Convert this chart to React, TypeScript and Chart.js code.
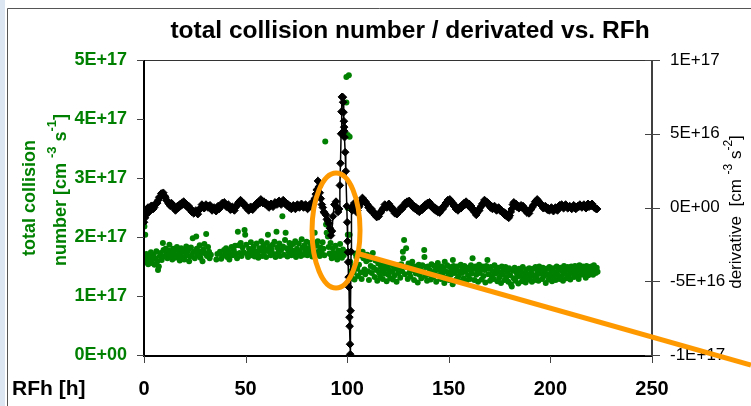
import React, { useEffect, useRef } from "react";
import { Chart, registerables } from "chart.js";

Chart.register(...registerables);

// RFh [h] axis ticks
const hourTicks = [0, 50, 100, 150, 200, 250];
// left axis tick labels (values in units of 1E+16 cm^-3 s^-1)
const leftTickLabels = ["0E+00", "1E+17", "2E+17", "3E+17", "4E+17", "5E+17"];
// right axis tick labels (values in units of 1E+16 cm^-3 s^-2)
const rightTickLabels = ["-1E+17", "-5E+16", "0E+00", "5E+16", "1E+17"];

// total collision number: [RFh, value / 1E+16]
const collisionPoints: [number, number][] = [
  [0, 22.4], [0.2, 21.8], [0.6, 20.4], [0.3, 16.6], [0.8, 15.7], [1.2, 17.1], [1.7, 16.2], [2.1, 15.4], [2.5, 16.9],
  [3.0, 16.0], [3.4, 17.4], [3.9, 15.6], [4.3, 16.5], [4.8, 17.0], [5.2, 15.3], [5.7, 16.3], [6.1, 17.6], [6.6, 15.9],
  [6.9, 14.4], [7.3, 15.0], [7.8, 16.8], [8.2, 17.3], [8.7, 16.1], [9.3, 19.0], [9.6, 17.8], [10.1, 16.7], [10.6, 18.0],
  [11.0, 17.2], [11.5, 16.4], [12.0, 17.7], [12.5, 18.7], [12.9, 16.9], [13.4, 17.5], [13.9, 16.2], [14.3, 18.0],
  [14.8, 17.1], [15.3, 16.5], [15.7, 17.9], [16.2, 18.3], [16.7, 16.8], [17.1, 17.6], [17.6, 16.0], [18.1, 17.2],
  [18.3, 18.1], [18.9, 16.6], [19.4, 17.8], [19.8, 16.2], [20.3, 17.4], [20.8, 18.4], [21.2, 16.9], [21.7, 17.7],
  [22.2, 15.9], [22.6, 16.7], [23.1, 18.2], [23.6, 17.0], [24.0, 19.8], [24.5, 17.5], [25.0, 16.4], [25.7, 20.1],
  [26.0, 18.0], [26.4, 16.9], [26.9, 17.6], [27.4, 18.6], [27.8, 16.5], [28.3, 17.3], [28.8, 15.9], [29.2, 17.9],
  [29.7, 18.8], [30.2, 17.2], [30.6, 20.5], [31.0, 16.8], [31.5, 18.3], [32.0, 17.5], [32.3, 16.4], [32.9, 17.0],
  [35.6, 16.2], [36.1, 17.1], [37.4, 17.5], [38.0, 16.3], [38.5, 16.8], [39.4, 17.8], [40.0, 17.3], [40.4, 18.1],
  [40.9, 16.6], [41.5, 17.6], [42.0, 16.2], [42.6, 17.0], [43.1, 18.3], [43.7, 16.9], [44.2, 17.7], [44.8, 18.5],
  [45.3, 17.1], [45.8, 16.4], [46.2, 20.9], [46.6, 18.6], [47.1, 17.3], [47.6, 19.0], [48.0, 16.8], [48.5, 18.2],
  [49.0, 17.4], [49.5, 21.2], [49.8, 20.4], [50.3, 18.7], [50.7, 17.1], [51.2, 16.6], [51.7, 18.0], [52.1, 17.5],
  [52.6, 19.1], [53.1, 16.9], [53.5, 17.8], [54.0, 18.4], [54.5, 16.7], [54.9, 17.5], [55.4, 18.9], [55.9, 17.2],
  [56.3, 16.5], [56.8, 18.1], [57.3, 17.7], [57.7, 19.3], [58.2, 16.8], [58.7, 18.5], [59.1, 17.4], [59.6, 18.0],
  [60.1, 16.6], [60.5, 19.0], [61.0, 20.4], [61.4, 17.6], [61.9, 18.3], [62.4, 16.9], [62.8, 17.9], [63.3, 18.7],
  [63.8, 17.1], [64.2, 19.2], [64.7, 16.6], [65.2, 20.9], [65.6, 18.2], [66.1, 17.4], [66.6, 18.9], [67.0, 16.8],
  [67.5, 17.8], [68.1, 23.5], [68.4, 18.4], [68.9, 17.0], [69.4, 19.5], [69.7, 20.7], [70.2, 18.1], [70.6, 16.7],
  [71.1, 17.6], [71.6, 19.0], [72.0, 18.3], [72.5, 16.9], [73.0, 17.7], [73.4, 18.8], [73.9, 17.3], [74.4, 19.3],
  [74.8, 16.6], [75.3, 18.0], [75.8, 17.2], [76.2, 18.9], [76.7, 17.6], [77.2, 16.8], [77.6, 19.6], [78.1, 18.2],
  [78.6, 17.0], [79.0, 18.6], [79.5, 17.7], [80.0, 19.2], [80.4, 16.9], [80.9, 18.1], [81.4, 17.4], [81.8, 19.0],
  [82.3, 18.4], [82.8, 16.7], [83.2, 17.8], [83.7, 18.9], [84.0, 20.7], [84.6, 17.2], [85.1, 18.5], [85.5, 19.3],
  [86.0, 17.6], [86.5, 16.8], [86.9, 18.2], [87.4, 17.4], [87.9, 19.1], [88.3, 18.0], [88.8, 16.9], [89.2, 36.2],
  [89.6, 22.1], [89.9, 20.7], [90.2, 22.5], [90.5, 20.1], [90.9, 18.3], [91.3, 17.2], [91.8, 19.0], [92.0, 17.0],
  [92.4, 16.4], [92.9, 18.1], [93.3, 17.3], [93.8, 16.6], [94.2, 18.5], [94.7, 17.0], [95.1, 16.2], [95.6, 17.7],
  [96.0, 16.8], [96.5, 18.8], [97.0, 17.4], [97.4, 16.5], [97.9, 17.9], [98.3, 16.9], [98.8, 17.5],
  [99.6, 47.1], [100.8, 47.4], [99.6, 42.8], [100.3, 37.3], [101.2, 37.0], [100.3, 20.4], [101.2, 20.4], [100.3, 24.9],
  [101.5, 15.8], [101.9, 14.2], [102.3, 13.1], [102.8, 15.0], [103.2, 14.0], [103.6, 12.8], [104.0, 17.2], [104.5, 16.6],
  [104.9, 14.6], [105.3, 13.4], [105.8, 15.3], [106.2, 16.9], [106.7, 14.0], [107.1, 12.9], [107.6, 17.5], [108.0, 16.4],
  [108.5, 14.5], [108.9, 13.7], [109.4, 15.9], [109.8, 17.0], [110.3, 14.2], [110.7, 12.7], [111.2, 16.2], [111.6, 15.1],
  [112.1, 13.9], [112.6, 17.3], [113.0, 14.8], [113.5, 13.2], [113.9, 16.0], [114.4, 14.4], [114.8, 12.6], [115.3, 15.5],
  [115.7, 14.0], [116.2, 13.3], [116.6, 15.0], [117.1, 14.3], [117.5, 12.9], [118.0, 15.4], [118.5, 13.8], [118.9, 14.7],
  [119.4, 12.5], [119.8, 15.1], [120.3, 13.6], [120.7, 14.4], [121.2, 13.0], [121.6, 15.3], [122.1, 14.1], [122.5, 12.8],
  [123.0, 15.0], [123.4, 13.5], [123.9, 14.6], [124.3, 12.4], [124.8, 15.2], [125.2, 13.9], [125.7, 14.8], [126.1, 13.1],
  [126.6, 15.4], [127.0, 14.2], [127.4, 17.5], [127.5, 16.4], [128.0, 19.5], [128.4, 13.7], [129.0, 18.1], [129.3, 14.9],
  [129.8, 12.9], [130.2, 15.5], [130.7, 14.0], [131.1, 13.3], [131.6, 15.1], [132.0, 15.8], [132.5, 14.4], [132.9, 12.7],
  [133.4, 15.0], [133.8, 13.8], [134.3, 14.6], [134.7, 12.3], [135.2, 15.3], [135.6, 13.6], [136.1, 14.5], [136.5, 13.0],
  [137.0, 15.2], [137.4, 14.1], [137.9, 17.8], [138.0, 16.6], [138.4, 13.4], [138.8, 14.9], [139.3, 12.6], [139.7, 15.0],
  [140.2, 13.7], [140.6, 14.4], [141.1, 12.8], [141.5, 15.4], [142.0, 14.0], [142.4, 13.2], [142.9, 15.1], [143.3, 14.3],
  [143.8, 12.4], [144.2, 14.8], [144.6, 15.6], [145.1, 13.5], [145.6, 14.4], [146.0, 12.9], [146.5, 15.0], [146.9, 13.8],
  [147.4, 14.7], [147.8, 12.2], [148.0, 15.8], [148.3, 14.2], [148.7, 13.1], [149.2, 15.2], [149.6, 14.0], [150.1, 12.7],
  [150.5, 14.9], [151.0, 13.6], [151.4, 14.5], [151.9, 12.0], [152.0, 16.1], [152.3, 15.1], [152.8, 13.9], [153.2, 14.6],
  [153.7, 12.8], [154.1, 15.0], [154.6, 13.3], [155.0, 14.2], [155.5, 12.5], [155.9, 15.3], [156.4, 13.9], [156.8, 14.7],
  [157.3, 13.0], [157.7, 15.1], [158.2, 14.1], [158.6, 12.6], [159.1, 14.8], [159.5, 13.5], [160.0, 14.5], [160.4, 12.9],
  [160.9, 15.2], [161.3, 13.8], [161.7, 16.4], [162.2, 14.6], [162.6, 12.7], [163.1, 15.0], [163.5, 13.6], [164.0, 14.3],
  [164.4, 12.4], [164.9, 15.3], [165.3, 13.9], [165.8, 14.7], [166.2, 12.8], [166.7, 15.0], [167.1, 13.4], [167.6, 14.4],
  [168.0, 12.3], [168.5, 15.1], [169.0, 16.1], [169.4, 13.7], [169.8, 14.6], [170.3, 12.6], [170.7, 14.9], [171.2, 13.3],
  [171.6, 14.2], [172.1, 12.9], [172.5, 15.2], [173.0, 13.8], [173.4, 14.5], [173.9, 12.5], [174.3, 14.8], [174.8, 13.1],
  [175.2, 14.0], [175.7, 12.2], [176.1, 15.0], [176.6, 13.6], [177.0, 14.4], [177.5, 12.7], [177.9, 14.9], [178.4, 13.2],
  [178.8, 14.1], [179.3, 12.4], [179.7, 14.7], [180.2, 13.5], [180.6, 12.0], [181.0, 11.6], [181.5, 14.3], [181.9, 13.0],
  [182.4, 14.8], [182.8, 12.6], [183.3, 14.0], [183.7, 13.3], [184.2, 12.1], [184.6, 14.6], [185.1, 13.4], [185.5, 14.2],
  [186.0, 12.5], [186.4, 14.9], [186.9, 13.1], [187.3, 13.9], [187.8, 12.3], [188.2, 14.5], [188.7, 13.6], [189.1, 12.8],
  [189.6, 14.7], [190.0, 13.2], [190.5, 14.0], [190.9, 12.4], [191.4, 14.6], [191.8, 13.5], [192.3, 12.7], [192.7, 14.9],
  [193.2, 13.3], [193.6, 14.2], [194.1, 12.6], [194.5, 15.0], [195.0, 13.8], [195.4, 14.5], [195.9, 12.9], [196.3, 14.8],
  [196.8, 13.4], [197.2, 14.1], [197.7, 12.2], [198.1, 14.6], [198.6, 13.7], [199.0, 12.8], [199.5, 14.9], [199.9, 13.5],
  [200.4, 14.3], [200.8, 12.5], [201.3, 14.7], [201.7, 13.1], [202.2, 14.0], [202.6, 12.7], [203.1, 15.0], [203.5, 13.6],
  [204.0, 14.4], [204.4, 12.9], [204.9, 14.8], [205.3, 13.3], [205.8, 14.2], [206.2, 12.6], [206.7, 15.1], [207.1, 13.8],
  [207.6, 14.5], [208.0, 13.0], [208.5, 14.9], [208.9, 13.5], [209.4, 14.3], [209.8, 12.8], [210.3, 15.0], [210.7, 13.9],
  [211.2, 14.6], [211.6, 13.2], [212.1, 15.1], [212.5, 14.0], [213.0, 13.4], [213.4, 14.7], [213.9, 12.9], [214.3, 15.2],
  [214.8, 14.1], [215.2, 13.6], [215.7, 14.8], [216.0, 15.0], [216.5, 13.7], [216.9, 14.4], [217.4, 13.1], [217.8, 15.1],
  [218.3, 14.2], [218.7, 13.5], [219.2, 14.9], [219.6, 13.9], [220.1, 15.0], [220.5, 14.3], [221.0, 13.6], [221.4, 15.2],
  [221.9, 14.5], [222.3, 13.9], [222.8, 14.8], [223.2, 14.1],
];

// derivative: [RFh, value / 1E+16]
const derivativePoints: [number, number][] = [
  [0, -1.0], [0.5, -0.7], [1, -0.5], [1.5, -0.1], [2, 0.0], [2.5, -0.3], [3, -0.2], [3.5, 0.1], [4, 0.1], [4.5, -0.1],
  [5, 0.0], [5.5, 0.2], [6, 0.3], [6.5, 0.3], [7, 0.5], [7.5, 0.7], [8, 0.7], [8.5, 0.95], [9, 0.9], [9.5, 1.0],
  [10, 0.8], [10.5, 0.7], [11, 0.5], [11.5, 0.45], [12, 0.3], [12.5, 0.2], [13, 0.1], [13.5, 0.3], [14, 0.2],
  [14.5, 0.0], [15, 0.0], [15.5, -0.2], [16, -0.1], [16.5, 0.1], [17, 0.0], [17.5, 0.2], [18, 0.1], [18.5, 0.3],
  [19, 0.2], [19.5, 0.4], [20, 0.3], [20.5, 0.15], [21, 0.2], [21.5, 0.0], [22, 0.1], [22.5, -0.1], [23, -0.1],
  [23.5, -0.3], [24, -0.2], [24.5, -0.4], [25, -0.3], [25.5, -0.2], [26, -0.3], [26.5, -0.45], [27, -0.2], [27.5, -0.1],
  [28, 0.0], [28.5, 0.2], [29, 0.1], [29.5, -0.05], [30, 0.0], [30.5, 0.2], [31, 0.1], [31.5, 0.0], [32, 0.1],
  [32.5, 0.15], [33, 0.0], [33.5, -0.2], [34, -0.1], [34.5, 0.0], [35, -0.1], [35.5, -0.25], [36, 0.0], [36.5, 0.1],
  [37, -0.1], [37.5, 0.05], [38, 0.1], [38.5, 0.3], [39, 0.2], [39.5, 0.35], [40, 0.2], [40.5, 0.05], [41, 0.1],
  [41.5, 0.2], [42, 0.0], [42.5, -0.15], [43, -0.1], [43.5, 0.05], [44, -0.1], [44.5, -0.2], [45, 0.0], [45.5, 0.1],
  [46, 0.2], [46.5, 0.35], [47, 0.3], [47.5, 0.5], [48, 0.4], [48.5, 0.25], [49, 0.3], [49.5, 0.15], [50, 0.1],
  [50.5, -0.05], [51, 0.0], [51.5, -0.2], [52, -0.1], [52.5, 0.05], [53, -0.1], [53.5, -0.15], [54, 0.0], [54.5, 0.15],
  [55, 0.1], [55.5, 0.3], [56, 0.2], [56.5, 0.4], [57, 0.3], [57.5, 0.55], [58, 0.45], [58.5, 0.3], [59, 0.4],
  [59.5, 0.25], [60, 0.3], [60.5, 0.15], [61, 0.2], [61.5, 0.0], [62, 0.1], [62.5, 0.25], [63, 0.15], [63.5, 0.05],
  [64, 0.2], [64.5, 0.35], [65, 0.3], [65.5, 0.2], [66, 0.35], [66.5, 0.45], [67, 0.3], [67.5, 0.2], [68, 0.35],
  [68.5, 0.5], [69, 0.4], [69.5, 0.25], [70, 0.3], [70.5, 0.1], [71, 0.2], [71.5, 0.0], [72, 0.1], [72.5, -0.1],
  [73, 0.0], [73.5, 0.15], [74, 0.0], [74.5, -0.1], [75, 0.05], [75.5, 0.2], [76, 0.1], [76.5, 0.0], [77, 0.1],
  [77.5, 0.25], [78, 0.15], [78.5, 0.0], [79, 0.1], [79.5, 0.2], [80, 0.05], [80.5, -0.1], [81, 0.0], [81.5, 0.2],
  [82, 0.1], [82.5, 0.2], [83, 0.3], [83.5, 0.45], [84, 0.6], [84.5, 0.9], [85, 1.2], [85.6, 1.8], [86, 1.4],
  [86.5, 1.0], [87, 0.6], [87.5, 0.2], [88, 0.0], [88.5, -0.3], [89, -0.4], [89.5, -0.5], [90, -0.8], [90.5, -0.9],
  [91, -1.1], [91.5, -1.4], [92, -1.9], [92.5, -1.6], [93, -0.6], [93.7, 0.2], [94.5, 0.4], [95, 0.0], [95.5, -0.3],
  [96, -0.1], [96.4, 1.5], [96.7, 3.0], [97.0, 5.0], [97.2, 6.5], [97.4, 7.5], [97.9, 7.48], [98.0, 7.14],
  [98.2, 6.46], [98.4, 5.85], [98.5, 5.45], [98.6, 5.17], [98.7, 4.77], [99.0, 3.75], [99.3, 2.46], [99.8, 0.09],
  [100.0, -1.0], [100.2, -2.29], [100.4, -3.03], [100.5, -3.7], [100.7, -4.72], [100.9, -5.4], [101.1, -7.44],
  [101.2, -8.05], [101.4, -9.27], [101.5, -9.95], [101.7, -7.0], [101.9, -3.0], [102.1, 0.0], [102.5, -0.2],
  [103, 0.1], [103.5, 0.3], [104, -0.1], [104.5, -0.3], [105, -0.2], [105.5, 0.0], [106, 0.1], [106.5, 0.3],
  [107, 0.4], [107.5, 0.65], [108, 0.55], [108.5, 0.4], [109, 0.4], [109.5, 0.25], [110, 0.2], [110.5, 0.0],
  [111, 0.0], [111.5, -0.2], [112, -0.1], [112.5, -0.3], [113, -0.3], [113.5, -0.5], [114, -0.45], [114.5, -0.65],
  [115, -0.55], [115.5, -0.6], [116, -0.4], [116.5, -0.35], [117, -0.2], [117.5, -0.1], [118, 0.0], [118.5, 0.2],
  [119, 0.1], [119.5, 0.0], [120, 0.1], [120.5, 0.25], [121, 0.1], [121.5, -0.05], [122, 0.0], [122.5, -0.2],
  [123, -0.2], [123.5, -0.4], [124, -0.3], [124.5, -0.45], [125, -0.35], [125.5, -0.25], [126, -0.2], [126.5, 0.0],
  [127, -0.1], [127.5, 0.05], [128, 0.1], [128.5, 0.3], [129, 0.2], [129.5, 0.4], [130, 0.3], [130.5, 0.45],
  [131, 0.35], [131.5, 0.2], [132, 0.2], [132.5, 0.0], [133, 0.1], [133.5, -0.1], [134, 0.0], [134.5, -0.2],
  [135, -0.1], [135.5, -0.3], [136, -0.15], [136.5, -0.05], [137, -0.15], [137.5, 0.05], [138, 0.0], [138.5, 0.2],
  [139, 0.1], [139.5, 0.3], [140, 0.2], [140.5, 0.35], [141, 0.2], [141.5, 0.05], [142, 0.1], [142.5, -0.1],
  [143, 0.0], [143.5, -0.2], [144, -0.1], [144.5, -0.3], [145, -0.2], [145.5, -0.35], [146, -0.2], [146.5, -0.05],
  [147, -0.1], [147.5, 0.1], [148, 0.1], [148.5, 0.3], [149, 0.3], [149.5, 0.5], [150, 0.4], [150.5, 0.55],
  [151, 0.45], [151.5, 0.3], [152, 0.3], [152.5, 0.1], [153, 0.1], [153.5, -0.1], [154, 0.0], [154.5, -0.2],
  [155, -0.1], [155.5, 0.05], [156, -0.05], [156.5, 0.15], [157, 0.1], [157.5, 0.3], [158, 0.2], [158.5, 0.4],
  [159, 0.3], [159.5, 0.15], [160, 0.25], [160.5, 0.0], [161, 0.1], [161.5, -0.1], [162, -0.1], [162.5, -0.3],
  [163, -0.3], [163.5, -0.5], [164, -0.35], [164.5, -0.2], [165, -0.2], [165.5, 0.0], [166, 0.1], [166.5, 0.25],
  [167, 0.3], [167.5, 0.5], [168, 0.45], [168.5, 0.3], [169, 0.35], [169.5, 0.2], [170, 0.2], [170.5, 0.0],
  [171, 0.1], [171.5, -0.1], [172, 0.0], [172.5, 0.1], [173, -0.05], [173.5, -0.2], [174, -0.1], [174.5, 0.0],
  [175, -0.1], [175.5, -0.25], [176, -0.2], [176.5, -0.35], [177, -0.3], [177.5, -0.5], [178, -0.4], [178.5, -0.6],
  [179, -0.5], [179.5, -0.7], [180, -0.55], [180.5, -0.3], [181, -0.1], [181.5, 0.2], [182, 0.35], [182.5, 0.15],
  [183, 0.25], [183.5, 0.05], [184, 0.1], [184.5, -0.05], [185, 0.05], [185.5, 0.15], [186, 0.0], [186.5, 0.1],
  [187, 0.0], [187.5, -0.2], [188, -0.15], [188.5, -0.35], [189, -0.3], [189.5, -0.4], [190, -0.2], [190.5, -0.1],
  [191, 0.0], [191.5, 0.15], [192, 0.2], [192.5, 0.4], [193, 0.35], [193.5, 0.55], [194, 0.45], [194.5, 0.3],
  [195, 0.3], [195.5, 0.15], [196, 0.1], [196.5, -0.05], [197, 0.0], [197.5, 0.1], [198, 0.0], [198.5, -0.15],
  [199, -0.05], [199.5, -0.2], [200, -0.1], [200.5, 0.0], [201, -0.1], [201.5, -0.25], [202, -0.1], [202.5, 0.0],
  [203, -0.1], [203.5, -0.2], [204, 0.0], [204.5, 0.15], [205, 0.05], [205.5, 0.2], [206, 0.1], [206.5, -0.05],
  [207, 0.1], [207.5, 0.2], [208, 0.1], [208.5, -0.05], [209, 0.0], [209.5, 0.1], [210, 0.0], [210.5, -0.1],
  [211, 0.0], [211.5, 0.15], [212, 0.05], [212.5, -0.1], [213, 0.0], [213.5, 0.1], [214, 0.05], [214.5, 0.2],
  [215, 0.1], [215.5, 0.0], [216, 0.1], [216.5, 0.2], [217, 0.1], [217.5, -0.05], [218, 0.1], [218.5, 0.25],
  [219, 0.05], [219.5, 0.15], [220, 0.1], [220.5, 0.25], [221, 0.1], [221.5, 0.0], [222, 0.0], [222.5, -0.1],
  [223, -0.1],
];

const GREEN = "#008000";
const ORANGE = "#FF9900";
const FONT = "Arial, 'Liberation Sans', sans-serif";

type Run = { t: string; sup?: boolean };

function drawRotatedRuns(
  ctx: CanvasRenderingContext2D,
  runs: Run[],
  baselineX: number,
  centerY: number,
  font: string,
  supFont: string,
  supRaise: number,
  color: string
) {
  ctx.save();
  ctx.fillStyle = color;
  ctx.textBaseline = "alphabetic";
  ctx.textAlign = "left";
  let total = 0;
  const widths = runs.map((r) => {
    ctx.font = r.sup ? supFont : font;
    const w = ctx.measureText(r.t).width;
    total += w;
    return w;
  });
  ctx.translate(baselineX, centerY);
  ctx.rotate(-Math.PI / 2);
  let x = -total / 2;
  runs.forEach((r, i) => {
    ctx.font = r.sup ? supFont : font;
    ctx.fillText(r.t, x, r.sup ? -supRaise : 0);
    x += widths[i];
  });
  ctx.restore();
}

const decorPlugin = {
  id: "decor",
  beforeDraw(chart: any) {
    const ctx = chart.ctx as CanvasRenderingContext2D;
    ctx.save();
    ctx.fillStyle = "#ffffff";
    ctx.fillRect(0, 0, chart.width, chart.height);
    ctx.fillStyle = "#dce5f2";
    ctx.fillRect(0, 0, 5, chart.height);
    ctx.strokeStyle = "#555555";
    ctx.lineWidth = 1;
    ctx.beginPath();
    ctx.moveTo(7.5, chart.height);
    ctx.lineTo(7.5, 8.5);
    ctx.lineTo(chart.width, 8.5);
    ctx.stroke();
    ctx.restore();
  },
  afterDraw(chart: any) {
    const ctx = chart.ctx as CanvasRenderingContext2D;
    const xs = chart.scales.x;
    const yl = chart.scales.y;
    const yr = chart.scales.yR;
    const { left, right, top, bottom } = chart.chartArea;
    ctx.save();

    // plot frame and axes
    ctx.strokeStyle = "#333333";
    ctx.lineWidth = 1;
    ctx.beginPath();
    ctx.moveTo(left, top + 0.5);
    ctx.lineTo(right, top + 0.5);
    ctx.stroke();

    ctx.strokeStyle = "#000000";
    ctx.lineWidth = 2;
    ctx.beginPath();
    ctx.moveTo(left, top);
    ctx.lineTo(left, bottom + 1);
    ctx.lineTo(right, bottom + 1);
    ctx.stroke();
    ctx.lineWidth = 1.5;
    ctx.beginPath();
    ctx.moveTo(right, top);
    ctx.lineTo(right, bottom + 1);
    ctx.stroke();

    // tick marks
    ctx.strokeStyle = "#444444";
    ctx.lineWidth = 1;
    ctx.beginPath();
    leftTickLabels.forEach((_, i) => {
      const p = Math.round(yl.getPixelForValue(i * 10)) + 0.5;
      ctx.moveTo(left - 7, p);
      ctx.lineTo(left, p);
    });
    rightTickLabels.forEach((_, i) => {
      const p = Math.round(yr.getPixelForValue(-10 + i * 5)) + 0.5;
      ctx.moveTo(right - 7, p);
      ctx.lineTo(right + 8, p);
    });
    hourTicks.forEach((h) => {
      const p = Math.round(xs.getPixelForValue(h)) + 0.5;
      ctx.moveTo(p, bottom + 1);
      ctx.lineTo(p, bottom + 8);
    });
    ctx.stroke();

    // title
    ctx.fillStyle = "#000000";
    ctx.font = "bold 24.5px " + FONT;
    ctx.textAlign = "center";
    ctx.textBaseline = "middle";
    ctx.fillText("total collision number / derivated vs. RFh", 410, 31);

    // x axis title
    ctx.font = "bold 21px " + FONT;
    ctx.textAlign = "left";
    ctx.fillText("RFh [h]", 12, 389);

    // left axis title
    drawRotatedRuns(ctx, [{ t: "total collision" }], 35, 198, "bold 18px " + FONT, "bold 13px " + FONT, 10, GREEN);
    drawRotatedRuns(
      ctx,
      [{ t: "number [cm " }, { t: "-3", sup: true }, { t: " s" }, { t: "-1", sup: true }, { t: "]" }],
      66,
      190,
      "bold 18px " + FONT,
      "bold 13px " + FONT,
      10,
      GREEN
    );

    // right axis title
    drawRotatedRuns(
      ctx,
      [{ t: "derivative  [cm " }, { t: "-3", sup: true }, { t: " s" }, { t: "-2", sup: true }, { t: "]" }],
      741,
      212,
      "17px " + FONT,
      "12px " + FONT,
      9,
      "#000000"
    );

    // orange highlight
    const cx = xs.getPixelForValue(94.5);
    const cy = yl.getPixelForValue(21.1);
    ctx.strokeStyle = ORANGE;
    ctx.lineWidth = 5;
    ctx.beginPath();
    ctx.ellipse(cx, cy, 24, 57.5, 0, 0, Math.PI * 2);
    ctx.stroke();
    ctx.beginPath();
    ctx.moveTo(xs.getPixelForValue(105.2), yl.getPixelForValue(17.2));
    ctx.lineTo(chart.width, 365);
    ctx.stroke();

    ctx.restore();
  },
};

export default function App() {
  const canvasRef = useRef<HTMLCanvasElement | null>(null);

  useEffect(() => {
    if (!canvasRef.current) return;
    const chart = new Chart(canvasRef.current, {
      type: "scatter",
      data: {
        datasets: [
          {
            label: "derivative",
            data: derivativePoints.map(([x, y]) => ({ x, y })),
            yAxisID: "yR",
            showLine: true,
            borderColor: "#000000",
            borderWidth: 1.5,
            backgroundColor: "#000000",
            pointStyle: "rectRot",
            pointRadius: 3.8,
            pointBorderWidth: 1,
            pointBorderColor: "#000000",
            tension: 0,
            order: 0,
          },
          {
            label: "total collision number",
            data: collisionPoints.map(([x, y]) => ({ x, y })),
            yAxisID: "y",
            showLine: false,
            backgroundColor: GREEN,
            borderColor: GREEN,
            pointStyle: "circle",
            pointRadius: 3,
            pointBorderWidth: 0,
            order: 1,
          },
        ],
      },
      options: {
        responsive: false,
        animation: false,
        devicePixelRatio: 1,
        layout: { padding: { left: 0, right: 0, top: 60, bottom: 0 } },
        plugins: {
          legend: { display: false },
          title: { display: false },
          tooltip: { enabled: false },
        },
        scales: {
          x: {
            type: "linear",
            position: "bottom",
            min: 0,
            max: 250,
            afterBuildTicks: (s: any) => {
              s.ticks = hourTicks.map((v) => ({ value: v }));
            },
            afterFit: (s: any) => {
              s.height = 51;
            },
            grid: { display: false, drawTicks: true, tickLength: 8 },
            border: { display: false },
            ticks: {
              padding: 14,
              color: "#000000",
              font: { family: FONT, size: 20, weight: "bold" },
              maxRotation: 0,
              autoSkip: false,
              callback: (v: any) => String(v),
            },
          },
          y: {
            type: "linear",
            position: "left",
            min: 0,
            max: 50,
            afterBuildTicks: (s: any) => {
              s.ticks = leftTickLabels.map((_, i) => ({ value: i * 10 }));
            },
            afterFit: (s: any) => {
              s.width = 144;
            },
            grid: { display: false, drawTicks: true, tickLength: 8 },
            border: { display: false },
            ticks: {
              padding: 9,
              color: GREEN,
              font: { family: FONT, size: 18, weight: "bold" },
              autoSkip: false,
              callback: (v: any) => leftTickLabels[Math.round(v / 10)],
            },
          },
          yR: {
            type: "linear",
            position: "right",
            min: -10,
            max: 10,
            afterBuildTicks: (s: any) => {
              s.ticks = rightTickLabels.map((_, i) => ({ value: -10 + i * 5 }));
            },
            afterFit: (s: any) => {
              s.width = 99;
            },
            grid: { display: false, drawTicks: true, tickLength: 8 },
            border: { display: false },
            ticks: {
              padding: 10,
              color: "#000000",
              font: { family: FONT, size: 17 },
              autoSkip: false,
              callback: (v: any) => rightTickLabels[Math.round((v + 10) / 5)],
            },
          },
        },
      },
      plugins: [decorPlugin],
    } as any);
    return () => chart.destroy();
  }, []);

  return (
    <div style={{ position: "absolute", left: 0, top: 0, width: 751, height: 406 }}>
      <canvas ref={canvasRef} width={751} height={406} style={{ display: "block" }} />
    </div>
  );
}
